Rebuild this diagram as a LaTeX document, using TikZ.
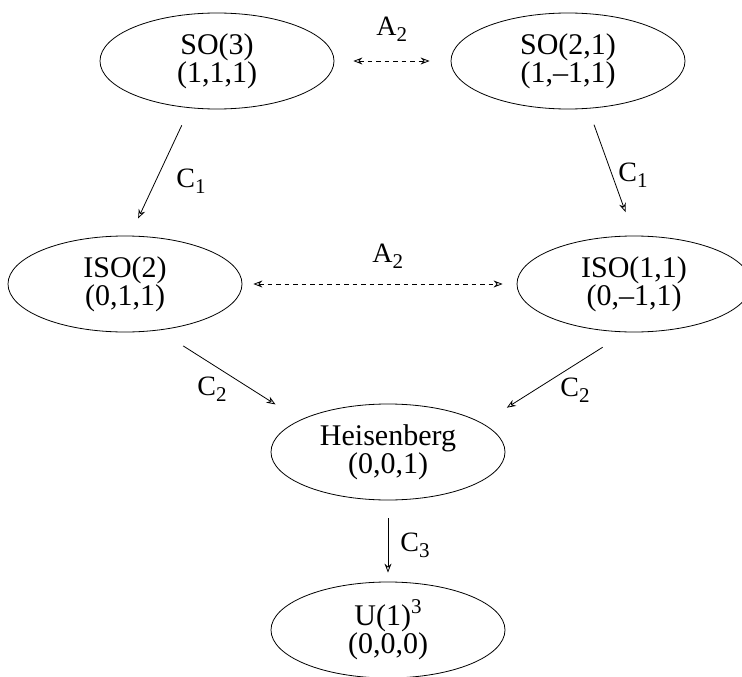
\documentclass[tikz,border=0pt]{standalone}
\usepackage{fontspec}
\setmainfont{Liberation Serif}
\usetikzlibrary{shapes.geometric,arrows.meta}
\newcommand{\lo}[1]{{\fontsize{21}{21}\selectfont\raisebox{-6pt}{#1}}}
\newcommand{\hi}[1]{{\fontsize{21}{21}\selectfont\raisebox{12pt}{#1}}}

\begin{document}
\begin{tikzpicture}
  [x=1pt,y=-1pt,line width=0.8pt,
   >={Stealth[open,length=9pt,width=7pt,inset=3pt]},
   grp/.style={ellipse,draw,minimum width=234pt,minimum height=96pt,inner sep=0pt,
     align=center,font=\fontsize{30}{28}\selectfont},
   lbl/.style={anchor=base west,inner sep=0pt,font=\fontsize{28}{28}\selectfont},
   dual/.style={<->,dash pattern=on 4.5pt off 4pt}]
  \useasboundingbox (0,0) rectangle (742,677);
  \node[grp] (so3)   at (217,61)  {SO(3)\\(1,1,1)};
  \node[grp] (so21)  at (568,61)  {SO(2,1)\\(1,--1,1)};
  \node[grp] (iso2)  at (125,284) {ISO(2)\\(0,1,1)};
  \node[grp] (iso11) at (634,284) {ISO(1,1)\\(0,--1,1)};
  \node[grp] (heis)  at (388,452) {Heisenberg\\(0,0,1)};
  \node[grp] (u13)   at (388,630) {U(1)\hi{3}\\(0,0,0)};

  \foreach \from/\to/\sa/\sb in {so3.-120/iso2.84/19pt/19pt,so21.-67/iso11.90/17pt/25pt,
      iso2.-54/heis.160/29pt/29pt,iso11.-99.5/heis.17/28pt/29pt,heis.-90/u13.90/18pt/9pt}
    \draw[->,shorten <=\sa,shorten >=\sb] (\from) -- (\to);
  \foreach \from/\to/\sa/\sb in {so3.east/so21.west/19pt/21pt,iso2.east/iso11.west/11pt/14pt}
    \draw[dual,shorten <=\sa,shorten >=\sb] (\from) -- (\to);

  \node[lbl] (a2top) at (376,36)  {A\lo{2}};
  \node[lbl] (c1l)   at (176,187) {C\lo{1}};
  \node[lbl] (c1r)   at (618,181) {C\lo{1}};
  \node[lbl] (a2mid) at (372,262) {A\lo{2}};
  \node[lbl] (c2l)   at (197,395) {C\lo{2}};
  \node[lbl] (c2r)   at (560,396) {C\lo{2}};
  \node[lbl] (c3)    at (400,551) {C\lo{3}};

\end{tikzpicture}
\end{document}
